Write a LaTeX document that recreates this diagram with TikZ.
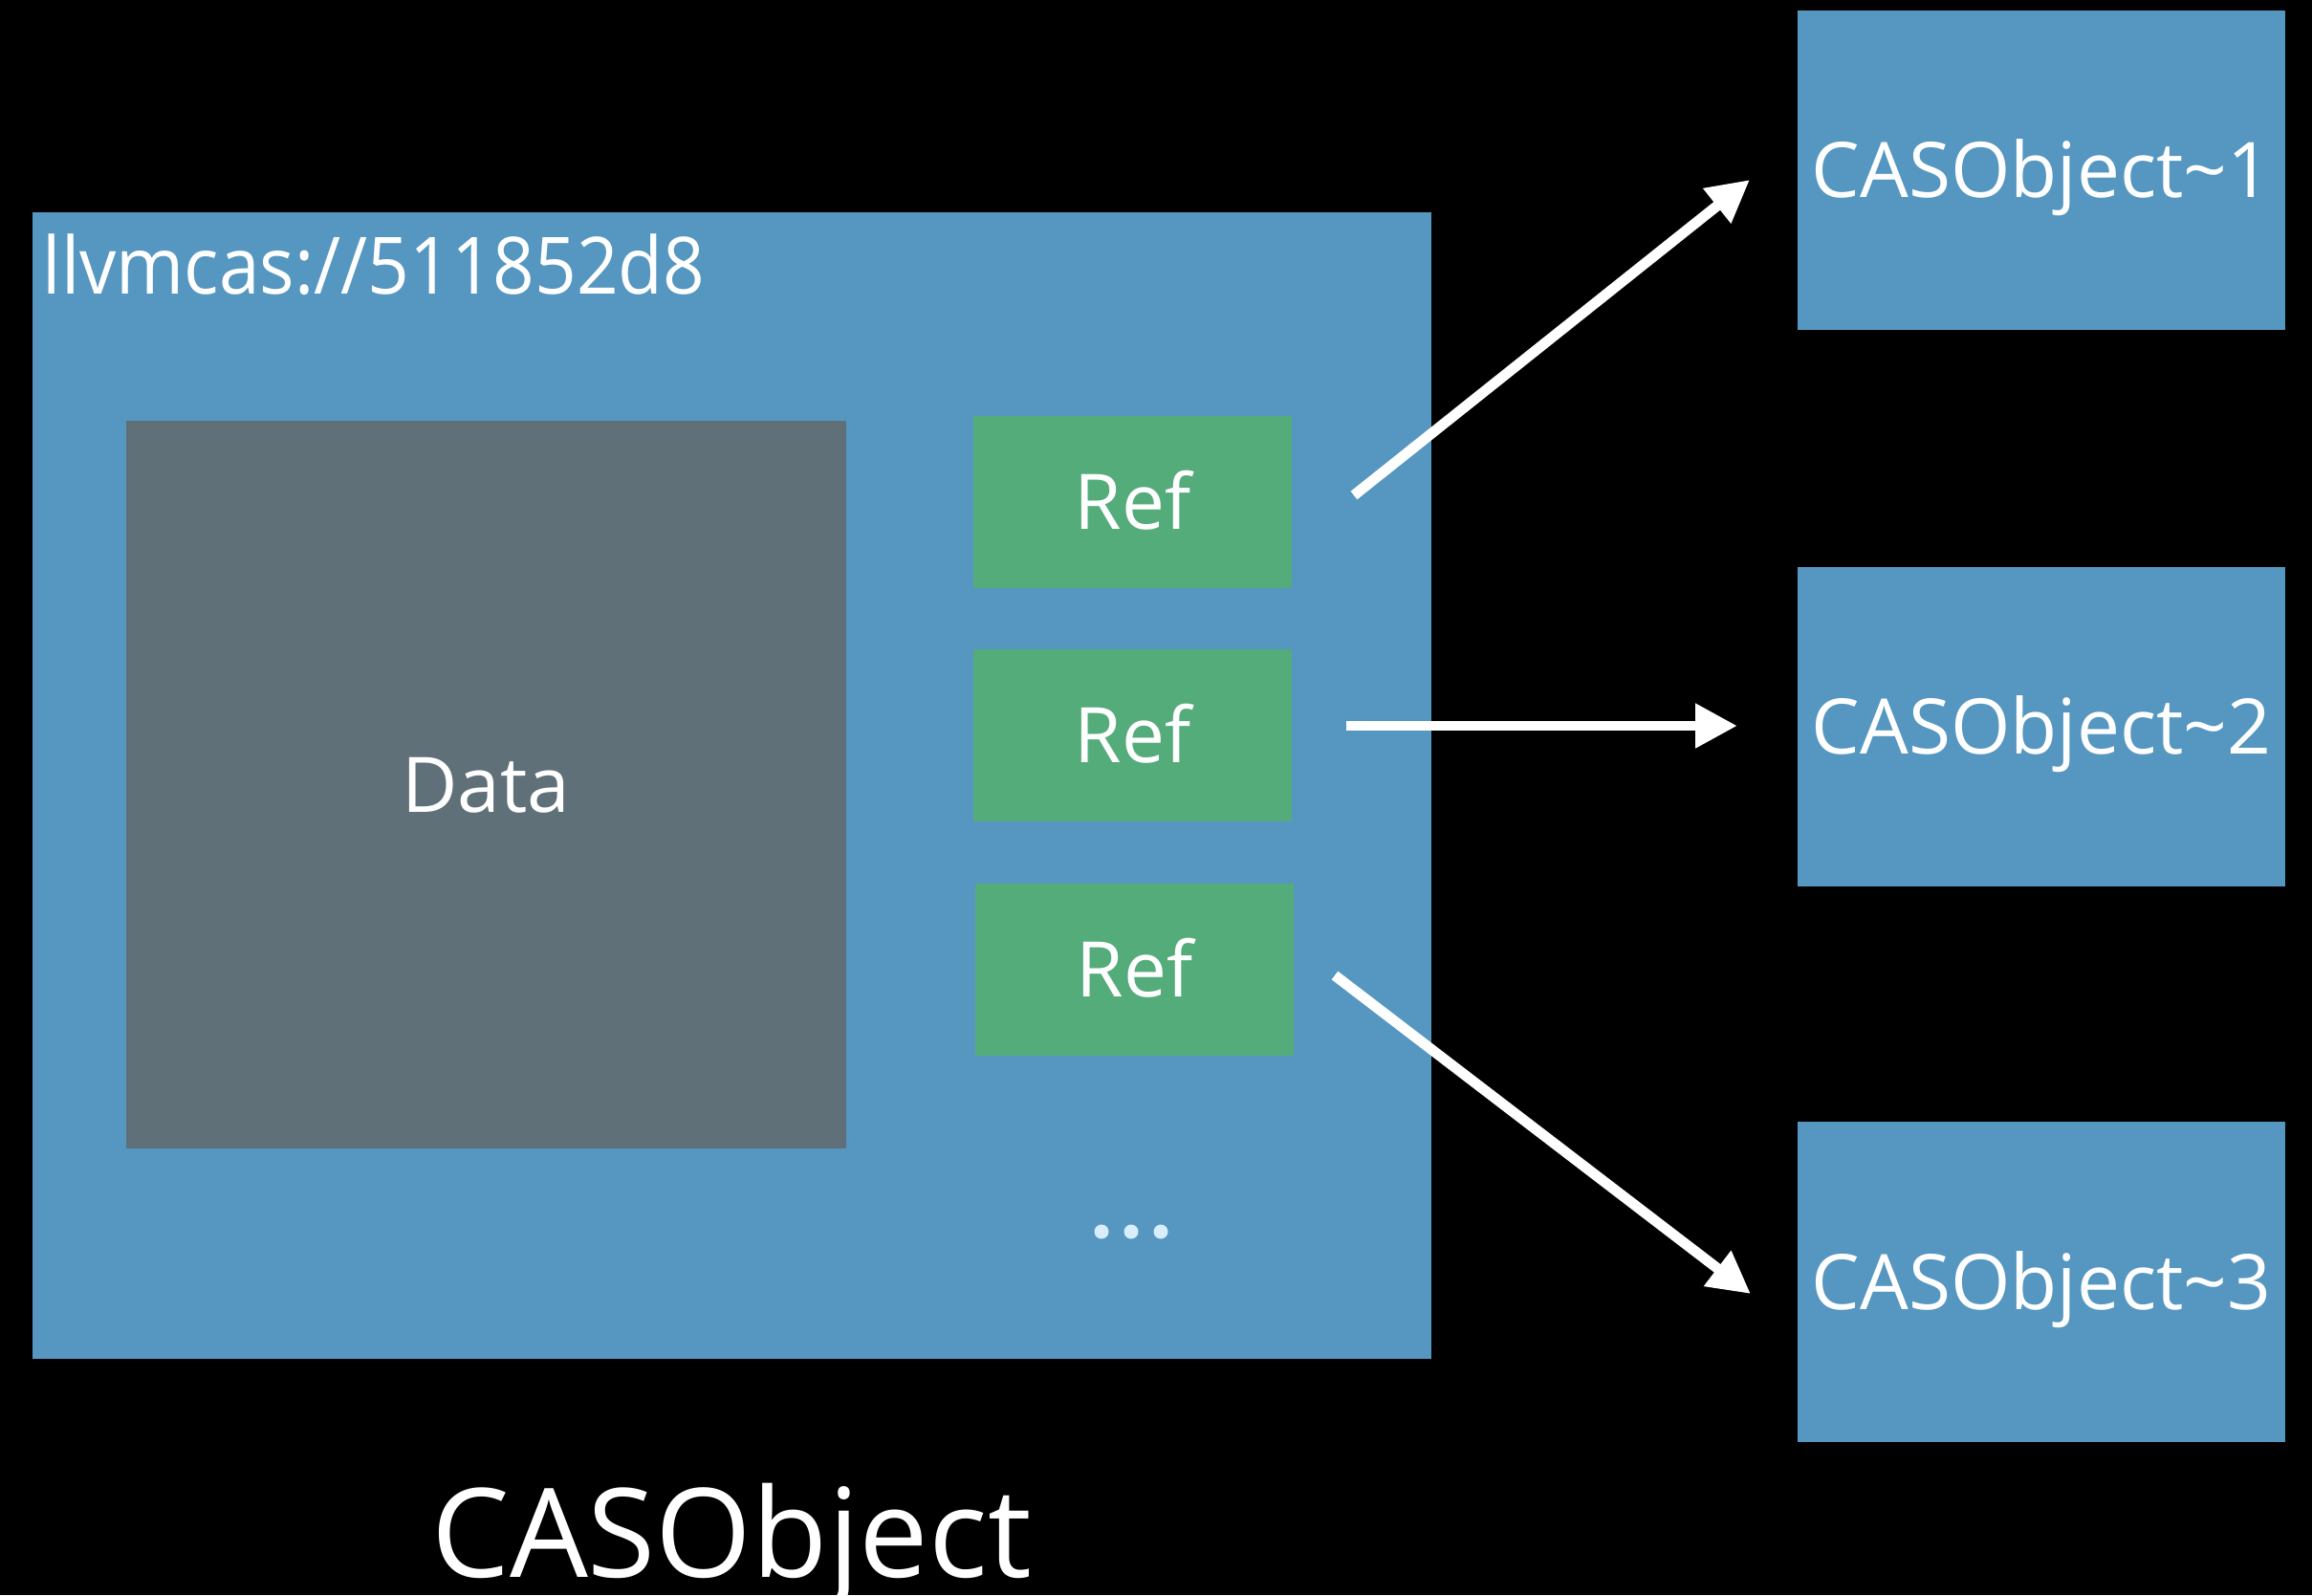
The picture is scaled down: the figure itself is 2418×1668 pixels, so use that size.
\documentclass[tikz,border=0pt]{standalone}
\usepackage{fontspec}
\setmainfont{Open Sans}
\usetikzlibrary{arrows.meta}
\definecolor{casblue}{HTML}{5597C1}
\definecolor{refgreen}{HTML}{55AC7B}
\definecolor{datagray}{HTML}{5F7079}
\definecolor{dotblue}{HTML}{D8EEFC}
\tikzset{
  panel/.style={fill=casblue, draw=none, inner sep=0pt},
  refbox/.style={fill=refgreen, draw=none, inner sep=0pt, minimum width=3.33cm, minimum height=1.79cm,
    text=white, font=\fontsize{22.8}{27}\selectfont, text height=16.3pt, text depth=0pt},
  objbox/.style={fill=casblue, draw=none, inner sep=0pt, minimum width=5.10cm, minimum height=3.34cm,
    text=white, font=\fontsize{22.8}{27}\selectfont, text height=16.3pt, text depth=0pt},
  link/.style={draw=white, line width=3.1pt, -{Triangle[length=12.5pt,width=12.5pt]}},
  dot/.style={circle, fill=dotblue, inner sep=0pt, minimum size=0.15cm}
}
\begin{document}
\begin{tikzpicture}[x=0.01cm, y=-0.01cm]
  % black page
  \fill[black] (0,0) rectangle (2418,1668);
  \useasboundingbox (0,0) rectangle (2418,1668);

  % the object and its contents
  \node[panel, minimum width=14.63cm, minimum height=11.99cm] (obj) at (765.5,821.5) {};
  \node[anchor=base west, inner sep=0pt, text=white, font=\fontsize{23.5}{28}\selectfont] (uri) at (44,307)
    {\scalebox{0.925}[1]{llvmcas://511852d8}};
  \node[fill=datagray, inner sep=0pt, minimum width=7.53cm, minimum height=7.61cm,
        text=white, font=\fontsize{22.8}{27}\selectfont, text height=16.3pt, text depth=0pt] (data) at (508.5,820.5) {Data};
  \node[refbox] (ref1) at (1184.5,525) {Ref};
  \node[refbox] (ref2) at (1184.5,769) {Ref};
  \node[refbox] (ref3) at (1186.5,1014) {Ref};
  \node[dot] (d1) at (1152,1288) {};
  \node[dot] (d2) at (1183,1288) {};
  \node[dot] (d3) at (1214,1288) {};

  % referenced objects
  \node[objbox] (o1) at (2135,178) {CASObject{\char"007E}1};
  \node[objbox] (o2) at (2135,760) {CASObject{\char"007E}2};
  \node[objbox] (o3) at (2135,1340.5) {CASObject{\char"007E}3};

  % caption
  \node[anchor=base, inner sep=0pt, text=white, font=\fontsize{36.8}{44}\selectfont] (title) at (765,1649) {CASObject};

  % reference arrows
  \coordinate (s1) at (1416,518);
  \coordinate (e1) at (1830,188);
  \coordinate (s2) at (1408,759);
  \coordinate (e2) at (1817,759);
  \coordinate (s3) at (1396,1020);
  \coordinate (e3) at (1831,1353);
  \draw[link] (s1) -- (e1);
  \draw[link] (s2) -- (e2);
  \draw[link] (s3) -- (e3);
\end{tikzpicture}
\end{document}
